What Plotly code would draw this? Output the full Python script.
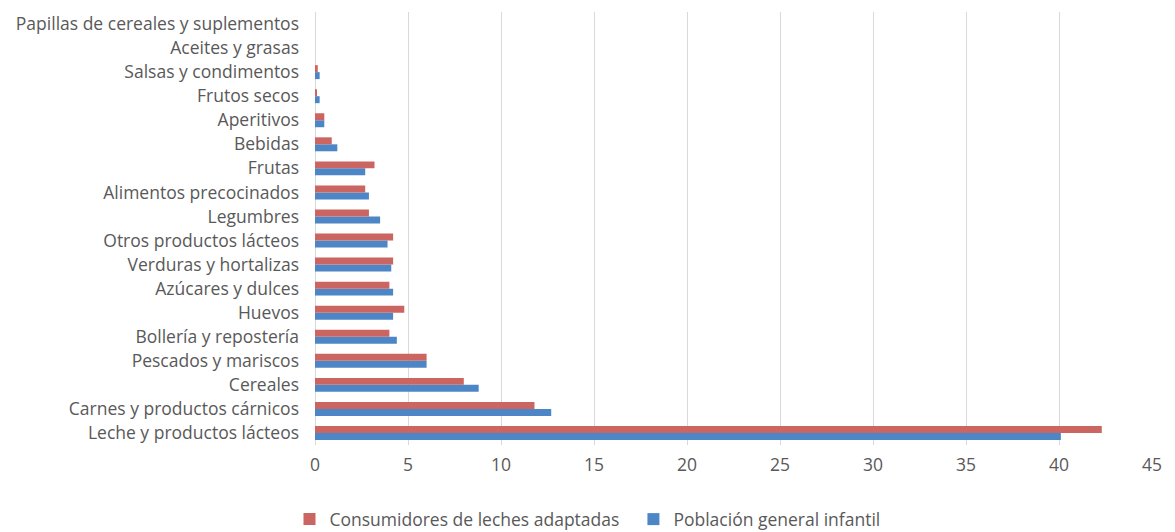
import plotly.graph_objects as go

# Food groups, bottom to top on the category axis
categorias = [
    "Leche y productos lácteos",
    "Carnes y productos cárnicos",
    "Cereales",
    "Pescados y mariscos",
    "Bollería y repostería",
    "Huevos",
    "Azúcares y dulces",
    "Verduras y hortalizas",
    "Otros productos lácteos",
    "Legumbres",
    "Alimentos precocinados",
    "Frutas",
    "Bebidas",
    "Aperitivos",
    "Frutos secos",
    "Salsas y condimentos",
    "Aceites y grasas",
    "Papillas de cereales y suplementos",
]

consumidores_leches_adaptadas = [42.3, 11.8, 8.0, 6.0, 4.0, 4.8, 4.0, 4.2, 4.2, 2.9, 2.7, 3.2, 0.9, 0.5, 0.07, 0.15, 0.0, 0.0]
poblacion_general_infantil = [40.1, 12.7, 8.8, 6.0, 4.4, 4.2, 4.2, 4.1, 3.9, 3.5, 2.9, 2.7, 1.2, 0.5, 0.25, 0.25, 0.0, 0.0]

ticks_x = [0, 5, 10, 15, 20, 25, 30, 35, 40, 45]

ROJO = "#CB6561"
AZUL = "#4D86C6"
TEXTO = "#595959"
FUENTE = "'Open Sans', 'Noto Sans', sans-serif"
TAM = 17.5

fig = go.Figure()
fig.add_trace(go.Bar(
    y=categorias, x=poblacion_general_infantil, orientation="h",
    name="Población general infantil", marker=dict(color=AZUL, line=dict(width=0)),
))
fig.add_trace(go.Bar(
    y=categorias, x=consumidores_leches_adaptadas, orientation="h",
    name="Consumidores de leches adaptadas  ", marker=dict(color=ROJO, line=dict(width=0)),
))

fig.update_layout(
    width=1175, height=532,
    margin=dict(l=315, r=23, t=12, b=87),
    paper_bgcolor="white", plot_bgcolor="white",
    barmode="group", bargap=0.42, bargroupgap=0,
    font=dict(family=FUENTE, size=TAM, color=TEXTO),
    showlegend=True,
    legend=dict(
        orientation="h", traceorder="reversed",
        xref="container", yref="container",
        x=0.5, xanchor="center", y=0.024, yanchor="middle",
        font=dict(family=FUENTE, size=TAM, color=TEXTO),
        itemwidth=30, itemsizing="constant",
    ),
    xaxis=dict(
        range=[0, 45], tickvals=ticks_x, showgrid=True,
        gridcolor="#D9D9D9", gridwidth=1, zeroline=True,
        zerolinecolor="#D9D9D9", zerolinewidth=1, showline=False,
        ticks="", tickfont=dict(family=FUENTE, size=TAM, color=TEXTO), ticklabelstandoff=7,
    ),
    yaxis=dict(
        type="category", showgrid=False, zeroline=False, showline=False,
        ticks="", tickfont=dict(family=FUENTE, size=TAM, color=TEXTO), ticklabelstandoff=15,
    ),
)

fig.write_html("out.html")
